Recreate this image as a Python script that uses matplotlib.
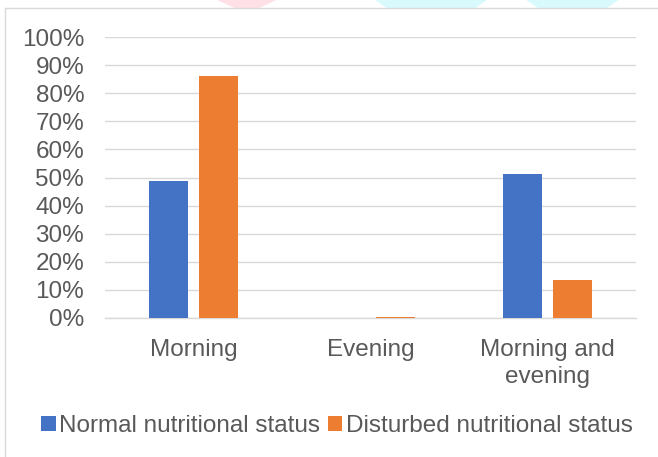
import matplotlib
matplotlib.use("Agg")
import matplotlib.pyplot as plt
from matplotlib.patches import Rectangle, Polygon
import numpy as np

categories = ["Morning", "Evening", "Morning and\nevening"]
normal = [48.8, 0.0, 51.2]
disturbed = [86.1, 0.5, 13.4]
series_names = ["Normal nutritional status", "Disturbed nutritional status"]
yticks = list(range(0, 101, 10))

plt.rcParams['font.family'] = ['Liberation Sans', 'DejaVu Sans']
txt = '#595959'
fs = 17.5

fig = plt.figure(figsize=(6.58, 4.57), dpi=100)
fig.patch.set_facecolor('white')

# faint watermark shapes behind chart frame
fig.patches.append(Polygon([[0.33, 1.0], [0.36, 0.98], [0.39, 0.98], [0.42, 1.0]],
                           closed=True, transform=fig.transFigure, facecolor='#ffe0e6',
                           edgecolor='none', zorder=0))
fig.patches.append(Polygon([[0.57, 1.0], [0.59, 0.98], [0.72, 0.98], [0.74, 1.0]],
                           closed=True, transform=fig.transFigure, facecolor='#d8fafc',
                           edgecolor='none', zorder=0))
fig.patches.append(Polygon([[0.80, 1.0], [0.82, 0.98], [0.92, 0.98], [0.94, 1.0]],
                           closed=True, transform=fig.transFigure, facecolor='#d8fafc',
                           edgecolor='none', zorder=0))
# chart frame
fig.patches.append(Rectangle((5/658, -0.01), 1.0, 1 - 8/457 + 0.01, transform=fig.transFigure,
                             facecolor='white', edgecolor='#d9d9d9', linewidth=1.0, zorder=1))

ax = fig.add_axes([105/658, 1 - 318/457, (636 - 105)/658, (318 - 37)/457])
ax.set_zorder(2)
ax.patch.set_alpha(0)

x = np.arange(len(categories))
w = 0.22
off = 0.141
ax.bar(x - off, normal, w, color='#4472c4', label=series_names[0], zorder=3)
ax.bar(x + off, disturbed, w, color='#ed7d31', label=series_names[1], zorder=3)

ax.set_xlim(-0.5, 2.5)
ax.set_ylim(0, 100)
ax.set_yticks(yticks)
ax.set_yticklabels([f"{v}%" for v in yticks], fontsize=fs, color=txt)
ax.set_xticks(x)
ax.set_xticklabels(categories, fontsize=fs, color=txt, linespacing=1.3)
ax.tick_params(axis='both', length=0)
ax.tick_params(axis='y', pad=15)
ax.tick_params(axis='x', pad=15)
ax.grid(axis='y', color='#d9d9d9', linewidth=1.0, zorder=0)
for s in ['top', 'right', 'left']:
    ax.spines[s].set_visible(False)
ax.spines['bottom'].set_color('#d9d9d9')
ax.spines['bottom'].set_linewidth(1.0)

leg = fig.legend(loc='center', bbox_to_anchor=(0.512, 1 - 426/457), ncol=2, frameon=False,
                 fontsize=fs, handlelength=0.6, handleheight=0.6, handletextpad=0.15,
                 columnspacing=0.3)
for t in leg.get_texts():
    t.set_color(txt)

fig.savefig("out.png", dpi=100)
